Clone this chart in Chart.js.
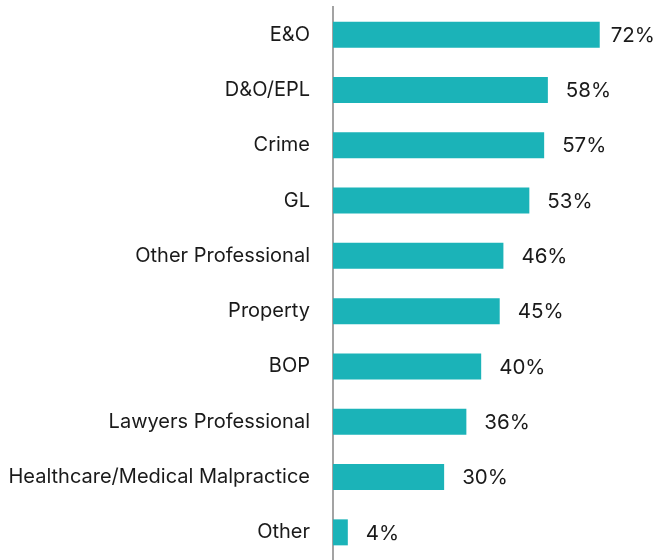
<!DOCTYPE html>
<html>
<head>
<meta charset="utf-8">
<script src="https://cdn.jsdelivr.net/npm/chart.js@4"></script>
<style>
  html, body { margin: 0; padding: 0; background: #fff; }
  canvas { display: block; }
</style>
</head>
<body>
<canvas id="chart" width="659" height="560"></canvas>
<script>
// categories and shares (percent)
const CATEGORIES = ['E&O', 'D&O/EPL', 'Crime', 'GL', 'Other Professional', 'Property',
                    'BOP', 'Lawyers Professional', 'Healthcare/Medical Malpractice', 'Other'];
const SHARES = [72, 58, 57, 53, 46, 45, 40, 36, 30, 4];

const BAR_COLOR = '#1BB3B8';
const FONT = 'Inter, "Noto Sans", sans-serif';

// value labels at bar ends, kept inside the canvas
const valueLabels = {
  id: 'valueLabels',
  afterDatasetsDraw(chart) {
    const ctx = chart.ctx;
    const meta = chart.getDatasetMeta(0);
    ctx.save();
    ctx.font = '20.5px ' + FONT;
    ctx.fillStyle = '#1a1a1a';
    ctx.textAlign = 'left';
    ctx.textBaseline = 'middle';
    meta.data.forEach((bar, i) => {
      const txt = SHARES[i] + '%';
      const w = ctx.measureText(txt).width;
      const x = Math.min(bar.x + 18, chart.width - 4 - w);
      ctx.fillText(txt, x, bar.y + 1);
    });
    ctx.restore();
  }
};

new Chart(document.getElementById('chart'), {
  type: 'bar',
  data: {
    labels: CATEGORIES,
    datasets: [{
      data: SHARES,
      backgroundColor: BAR_COLOR,
      borderWidth: 0,
      barPercentage: 0.94,
      categoryPercentage: 0.5
    }]
  },
  options: {
    indexAxis: 'y',
    responsive: false,
    animation: false,
    layout: { padding: { top: 7, bottom: 0, left: 0, right: 0 } },
    plugins: {
      legend: { display: false },
      tooltip: { enabled: false }
    },
    scales: {
      x: {
        display: false,
        min: 0,
        max: 88
      },
      y: {
        // fixed axis width; no extra room above/below for the labels
        afterFit: s => { s.width = 333; s.paddingTop = 0; s.paddingBottom = 0; },
        grid: { display: false, drawTicks: false },
        border: { display: true, color: '#A3A3A3', width: 2 },
        ticks: {
          padding: 23,
          color: '#1a1a1a',
          font: { family: FONT, size: 20 }
        }
      }
    }
  },
  plugins: [valueLabels]
});
</script>
</body>
</html>
